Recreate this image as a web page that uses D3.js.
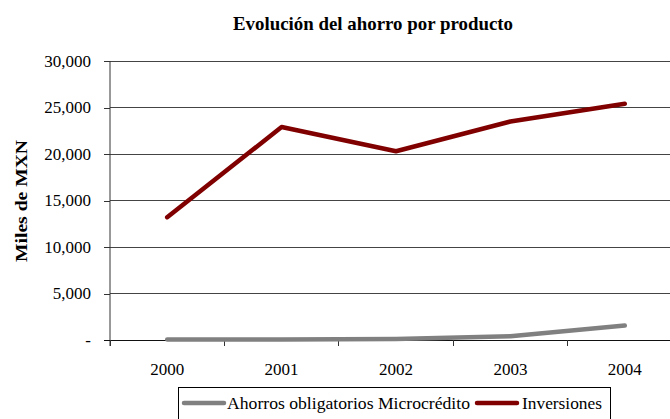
<!DOCTYPE html>
<html><head><meta charset="utf-8">
<script src="https://cdn.jsdelivr.net/npm/d3@7"></script>
<style>body{margin:0;background:#fff}svg{display:block}svg text{font-family:"Liberation Serif","Times New Roman",serif}</style>
</head><body>
<svg id="c" width="670" height="419"></svg>
<script>
const years = ["2000","2001","2002","2003","2004"];
const ahorros = [50, 50, 100, 400, 1550];
const inversiones = [13200, 22900, 20300, 23500, 25400];
const yTicks = [0, 5000, 10000, 15000, 20000, 25000, 30000];
const seriesNames = ["Ahorros obligatorios Microcrédito", "Inversiones"];
const seriesColors = ["#808080", "#800000"];

(function(){
const svg = d3.select("#c");
const pLeft = 110, pTop = 61, pBottom = 340, bandW = 114.4;
const x = d3.scaleBand().domain(years).range([pLeft, pLeft + bandW * years.length]).padding(0);
const y = d3.scaleLinear().domain([0, 30000]).range([pBottom, pTop]);

// gridlines
svg.append("g").selectAll("line").data(yTicks.slice(1)).join("line")
  .attr("x1", pLeft).attr("x2", 670).attr("y1", d => y(d)).attr("y2", d => y(d))
  .attr("stroke", "#444").attr("stroke-width", 1).attr("shape-rendering", "crispEdges");

// y axis
const yAxis = d3.axisLeft(y).tickValues(yTicks).tickSize(6).tickPadding(13)
  .tickFormat(d => d === 0 ? "-" : d3.format(",")(d));
const ga = svg.append("g").attr("transform", `translate(${pLeft},0)`).call(yAxis);
ga.attr("font-family", null).attr("font-size", null);
ga.select(".domain").attr("stroke", "#333").attr("d", `M0,${pTop}V${pBottom + 6}`);
ga.selectAll("line").attr("stroke", "#333").attr("shape-rendering", "crispEdges");
ga.selectAll("text").style("font-size", "17px").attr("fill", "#000");

// x axis baseline
svg.append("line").attr("x1", pLeft - 6).attr("x2", 670).attr("y1", pBottom).attr("y2", pBottom)
  .attr("stroke", "#111").attr("shape-rendering", "crispEdges");
svg.append("g").selectAll("line").data(years).join("line")
  .attr("x1", d => x(d)).attr("x2", d => x(d)).attr("y1", pBottom).attr("y2", pBottom + 6)
  .attr("stroke", "#333").attr("shape-rendering", "crispEdges");
svg.append("g").selectAll("text").data(years).join("text")
  .attr("x", d => x(d) + x.bandwidth() / 2).attr("y", 375)
  .attr("text-anchor", "middle").style("font-size", "17px").text(d => d);

// lines
const line = d3.line().x((d, i) => x(years[i]) + x.bandwidth() / 2).y(d => y(d));
[ahorros, inversiones].forEach((s, k) => {
  svg.append("path").datum(s).attr("d", line).attr("fill", "none")
    .attr("stroke", seriesColors[k]).attr("stroke-width", 4.5)
    .attr("stroke-linecap", "round").attr("stroke-linejoin", "round");
});

// title
svg.append("text").attr("x", 373).attr("y", 30).attr("text-anchor", "middle")
  .style("font-size", "19px").attr("font-weight", "bold")
  .attr("textLength", 280).attr("lengthAdjust", "spacingAndGlyphs")
  .text("Evolución del ahorro por producto");

// y label
svg.append("text").attr("transform", "translate(27,201) rotate(-90)").attr("text-anchor", "middle")
  .style("font-size", "17px").attr("font-weight", "bold")
  .attr("textLength", 122).attr("lengthAdjust", "spacingAndGlyphs")
  .text("Miles de MXN");

// legend
const lg = svg.append("g");
lg.append("rect").attr("x", 178.5).attr("y", 387.5).attr("width", 432).attr("height", 40)
  .attr("fill", "#fff").attr("stroke", "#000");
const items = [{x: 184, tx: 227, w: 243}, {x: 477, tx: 522, w: 80}];
items.forEach((it, k) => {
  lg.append("line").attr("x1", it.x).attr("x2", it.x + 40).attr("y1", 403).attr("y2", 403)
    .attr("stroke", seriesColors[k]).attr("stroke-width", 4.5).attr("stroke-linecap", "round");
  lg.append("text").attr("x", it.tx).attr("y", 409).style("font-size", "17px")
    .attr("textLength", it.w).attr("lengthAdjust", "spacingAndGlyphs")
    .text(seriesNames[k]);
});
})();
</script>
</body></html>
